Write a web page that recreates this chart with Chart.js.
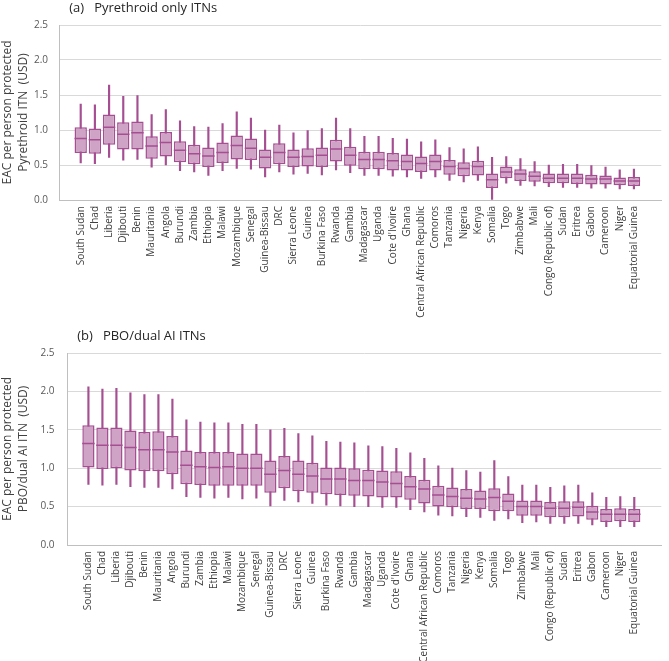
<!DOCTYPE html>
<html>
<head>
<meta charset="utf-8">
<script src="https://cdn.jsdelivr.net/npm/chart.js@4/dist/chart.umd.min.js"></script>
<style>
  html, body { margin: 0; padding: 0; background: #fff; }
  .panel { position: absolute; left: 0; width: 669px; }
  #wrapA { top: 0; height: 320px; }
  #wrapB { top: 320px; height: 341px; }
</style>
</head>
<body>
<div class="panel" id="wrapA"><canvas id="chartA"></canvas></div>
<div class="panel" id="wrapB"><canvas id="chartB"></canvas></div>
<script>
const countries = ['South Sudan', 'Chad', 'Liberia', 'Djibouti', 'Benin', 'Mauritania', 'Angola', 'Burundi', 'Zambia', 'Ethiopia',
  'Malawi', 'Mozambique', 'Senegal', 'Guinea-Bissau', 'DRC', 'Sierra Leone', 'Guinea', 'Burkina Faso', 'Rwanda', 'Gambia',
  'Madagascar', 'Uganda', "Cote d'Ivoire", 'Ghana', 'Central African Republic', 'Comoros', 'Tanzania', 'Nigeria', 'Kenya', 'Somalia',
  'Togo', 'Zimbabwe', 'Mali', 'Congo (Republic of)', 'Sudan', 'Eritrea', 'Gabon', 'Cameroon', 'Niger', 'Equatorial Guinea'];

const yTicks = [0, 0.5, 1.0, 1.5, 2.0, 2.5];

// (a) pyrethroid only ITNs
const aMax = [1.37,1.36,1.64,1.48,1.49,1.22,1.29,1.13,1.05,1.04,1.09,1.26,1.17,1.00,1.07,0.96,0.99,1.02,1.17,1.02,
  0.91,0.91,0.88,0.87,0.83,0.86,0.75,0.73,0.76,0.61,0.62,0.59,0.55,0.50,0.51,0.51,0.49,0.47,0.43,0.44];
const aQ3 = [1.04,1.02,1.22,1.11,1.12,0.91,0.97,0.84,0.79,0.75,0.82,0.92,0.88,0.72,0.81,0.72,0.74,0.75,0.86,0.76,
  0.69,0.69,0.67,0.65,0.62,0.65,0.57,0.54,0.56,0.38,0.48,0.44,0.41,0.38,0.38,0.38,0.36,0.35,0.32,0.33];
const aMed = [0.88,0.86,1.04,0.94,0.96,0.77,0.82,0.71,0.66,0.63,0.68,0.78,0.74,0.61,0.68,0.61,0.62,0.64,0.73,0.64,
  0.58,0.58,0.56,0.55,0.52,0.55,0.48,0.45,0.48,0.29,0.40,0.37,0.34,0.31,0.31,0.31,0.30,0.30,0.27,0.27];
const aQ1 = [0.67,0.66,0.79,0.72,0.72,0.59,0.62,0.54,0.51,0.47,0.53,0.58,0.57,0.45,0.51,0.47,0.48,0.47,0.55,0.49,
  0.44,0.44,0.42,0.42,0.40,0.42,0.36,0.34,0.35,0.17,0.31,0.27,0.26,0.24,0.24,0.23,0.22,0.22,0.21,0.20];
const aMin = [0.53,0.52,0.61,0.57,0.58,0.47,0.50,0.42,0.40,0.35,0.42,0.45,0.44,0.33,0.40,0.37,0.38,0.36,0.43,0.39,
  0.35,0.35,0.34,0.33,0.31,0.33,0.28,0.26,0.28,0.01,0.24,0.21,0.20,0.19,0.18,0.18,0.17,0.17,0.16,0.16];

// (b) PBO/dual AI ITNs
const bMax = [2.06,2.03,2.04,1.98,1.96,1.96,1.90,1.63,1.60,1.59,1.59,1.57,1.57,1.50,1.52,1.45,1.42,1.35,1.34,1.33,
  1.29,1.28,1.26,1.20,1.13,1.03,1.00,0.97,0.95,1.10,0.89,0.78,0.78,0.75,0.77,0.78,0.68,0.62,0.63,0.62];
const bQ3 = [1.56,1.53,1.53,1.49,1.47,1.48,1.42,1.23,1.21,1.21,1.21,1.19,1.19,1.10,1.16,1.10,1.07,1.01,1.01,1.00,
  0.98,0.97,0.96,0.90,0.85,0.77,0.75,0.73,0.71,0.74,0.67,0.58,0.58,0.56,0.57,0.57,0.51,0.47,0.48,0.47];
const bMed = [1.32,1.30,1.30,1.27,1.24,1.24,1.21,1.04,1.02,1.01,1.02,1.00,1.00,0.92,0.97,0.92,0.90,0.86,0.86,0.84,
  0.84,0.82,0.80,0.76,0.73,0.65,0.63,0.61,0.60,0.62,0.57,0.50,0.50,0.48,0.48,0.49,0.43,0.40,0.40,0.40];
const bQ1 = [1.01,0.99,1.00,0.97,0.96,0.96,0.92,0.79,0.78,0.77,0.77,0.77,0.77,0.68,0.74,0.70,0.68,0.66,0.65,0.64,
  0.63,0.62,0.62,0.59,0.54,0.50,0.49,0.47,0.47,0.44,0.44,0.38,0.38,0.36,0.36,0.37,0.33,0.30,0.31,0.30];
const bMin = [0.79,0.78,0.79,0.76,0.75,0.75,0.73,0.63,0.62,0.61,0.62,0.60,0.61,0.51,0.58,0.56,0.54,0.52,0.51,0.50,
  0.50,0.49,0.49,0.46,0.43,0.39,0.38,0.37,0.36,0.32,0.34,0.29,0.30,0.28,0.28,0.28,0.26,0.24,0.24,0.24];

const fillColor = '#cfa3c5';
const lineColor = '#a54e91';
const font = "'Open Sans', 'DejaVu Sans', sans-serif";

function makeBoxChart(canvasId, title, yTitle, mins, q1s, meds, q3s, maxs, geo) {
  const whiskers = countries.map((c, i) => ({ x: i, y: [mins[i], maxs[i]] }));
  const boxes = countries.map((c, i) => ({ x: i, y: [q1s[i], q3s[i]] }));
  const medians = countries.map((c, i) => ({ x: i, y: meds[i] }));

  return new Chart(document.getElementById(canvasId), {
    type: 'bar',
    data: {
      datasets: [
        {
          type: 'line',
          data: medians,
          showLine: false,
          pointStyle: 'line',
          pointRadius: 6.2,
          pointBorderWidth: 1.5,
          pointBorderColor: lineColor,
          order: 1
        },
        {
          data: boxes,
          backgroundColor: fillColor,
          borderColor: lineColor,
          borderWidth: 1.5,
          borderSkipped: false,
          grouped: false,
          barPercentage: 0.87,
          categoryPercentage: 1,
          order: 2
        },
        {
          data: whiskers,
          backgroundColor: lineColor,
          borderWidth: 0,
          grouped: false,
          barThickness: 1.5,
          order: 3
        }
      ]
    },
    options: {
      responsive: true,
      maintainAspectRatio: false,
      animation: false,
      layout: { padding: { left: 0, right: geo.right, top: 0, bottom: 0 } },
      plugins: {
        legend: { display: false },
        tooltip: { enabled: false },
        title: {
          display: true,
          text: title,
          align: 'start',
          fullSize: false,
          color: '#262626',
          font: { family: font, size: 13, weight: 'normal', lineHeight: 1.2 },
          padding: { top: geo.titleTop, bottom: geo.titleBottom }
        }
      },
      scales: {
        x: {
          type: 'linear',
          min: -1,
          max: 40.4,
          afterBuildTicks: (scale) => { scale.ticks = countries.map((c, i) => ({ value: i })); },
          afterFit: (scale) => { scale.height = geo.xHeight; },
          grid: { display: false, drawTicks: false },
          border: { display: true, color: '#bfbfbf', width: 1 },
          ticks: {
            autoSkip: false,
            minRotation: 90,
            maxRotation: 90,
            padding: 6,
            color: '#404040',
            font: { family: font, size: 10 },
            callback: (v) => countries[v] ?? ''
          }
        },
        y: {
          min: 0,
          max: 2.5,
          afterBuildTicks: (scale) => { scale.ticks = yTicks.map(v => ({ value: v })); },
          afterFit: (scale) => { scale.width = geo.yWidth; },
          grid: { color: '#d9d9d9', lineWidth: 1, drawTicks: false },
          border: { display: true, color: '#bfbfbf', width: 1 },
          ticks: {
            padding: geo.tickPad,
            color: '#595959',
            font: { family: font, size: 10 },
            callback: (v) => v.toFixed(1)
          },
          title: {
            display: true,
            text: yTitle,
            color: '#404040',
            font: { family: font, size: 12, lineHeight: 1.3 },
            padding: { top: 0, bottom: 0 }
          }
        }
      }
    }
  });
}

makeBoxChart('chartA', '   (a)   Pyrethroid only ITNs',
  ['EAC per person protected', 'Pyrethroid ITN  (USD)'],
  aMin, aQ1, aMed, aQ3, aMax,
  { right: 3, titleTop: 0, titleBottom: 9.4, xHeight: 120, yWidth: 59, tickPad: 11 });

makeBoxChart('chartB', '   (b)   PBO/dual AI ITNs',
  ['EAC per person protected', 'PBO/dual AI ITN  (USD)'],
  bMin, bQ1, bMed, bQ3, bMax,
  { right: 4, titleTop: 8, titleBottom: 9.4, xHeight: 116, yWidth: 67, tickPad: 12.5 });
</script>
</body>
</html>
